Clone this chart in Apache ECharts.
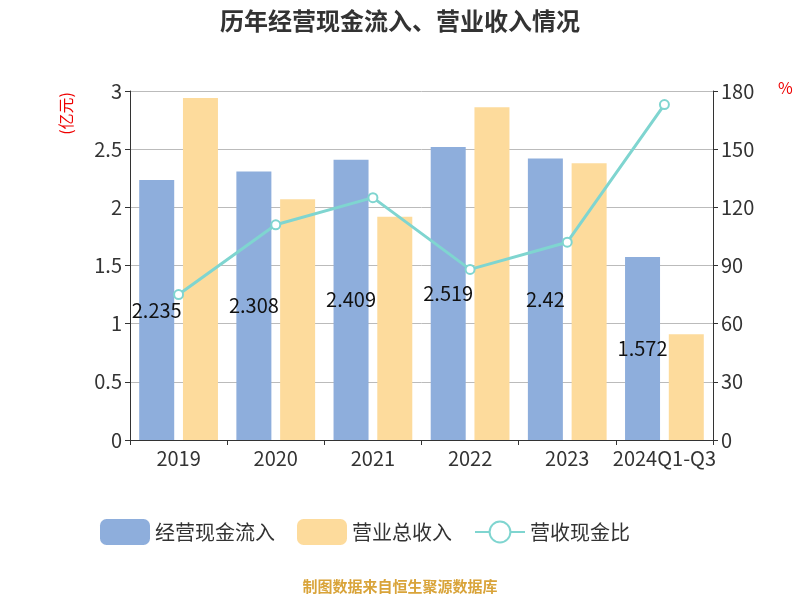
<!DOCTYPE html>
<html lang="zh">
<head>
  <meta charset="UTF-8" />
  <script src="https://cdn.jsdelivr.net/npm/echarts@6/dist/echarts.min.js"></script>
  <style>
    body { margin: 0; background: #fff; }
    #chart { width: 800px; height: 600px; }
  </style>
</head>
<body>
  <div id="chart"></div>
  <script>
    const categories = ['2019', '2020', '2021', '2022', '2023', '2024Q1-Q3'];
    const cashInflow = [2.235, 2.308, 2.409, 2.519, 2.42, 1.572];
    const revenue = [2.94, 2.07, 1.92, 2.86, 2.38, 0.91];
    const ratio = [75, 111, 125, 88, 102, 173];

    const font = 'Noto Sans CJK SC';
    const chart = echarts.init(document.getElementById('chart'));
    chart.setOption({
      textStyle: { fontFamily: font },
      title: {
        text: '历年经营现金流入、营业收入情况',
        left: 'center', top: 4,
        textStyle: { fontSize: 24, fontWeight: 'bold', color: '#333' }
      },
      graphic: [{
        type: 'text', left: 'center', top: 579,
        style: { text: '制图数据来自恒生聚源数据库', fill: '#d9a43a', font: 'bold 15px "Noto Sans CJK SC"' }
      }, {
        type: 'text', left: 58, top: 92, rotation: Math.PI / 2,
        style: { text: '(亿元)', fill: '#e00', font: '16px "Noto Sans CJK SC"' }
      }, {
        type: 'text', left: 778, top: 80,
        style: { text: '%', fill: '#e00', font: '16px "Noto Sans CJK SC"' }
      }],
      legend: {
        bottom: 50, left: 95, itemWidth: 50, itemHeight: 26, itemGap: 22,
        textStyle: { fontSize: 20, color: '#333' },
        data: ['经营现金流入', '营业总收入', '营收现金比']
      },
      grid: { left: 130, right: 87, top: 91, bottom: 160 },
      xAxis: {
        type: 'category', data: categories,
        axisLine: { lineStyle: { color: '#333' } },
        axisTick: { show: true },
        axisLabel: { fontSize: 20, color: '#333', interval: 0 }
      },
      yAxis: [{
        type: 'value', min: 0, max: 3, interval: 0.5,
        axisLine: { show: true, lineStyle: { color: '#333' } },
        axisTick: { show: true },
        axisLabel: { fontSize: 20, color: '#333' },
        splitLine: { lineStyle: { color: '#bbb' } }
      }, {
        type: 'value', min: 0, max: 180, interval: 30,
        axisLine: { show: true, lineStyle: { color: '#333' } },
        axisTick: { show: true },
        axisLabel: { fontSize: 20, color: '#333' },
        splitLine: { show: false }
      }],
      series: [{
        name: '经营现金流入', type: 'bar', data: cashInflow, barWidth: 35, barGap: '25%',
        itemStyle: { color: '#8eaedc' },
        label: { show: true, position: 'inside', fontSize: 20, color: '#111' }
      }, {
        name: '营业总收入', type: 'bar', data: revenue, barWidth: 35,
        itemStyle: { color: '#fddb9c' }
      }, {
        name: '营收现金比', type: 'line', yAxisIndex: 1, data: ratio,
        symbol: 'circle', symbolSize: 9,
        lineStyle: { color: '#7fd5d0', width: 3 },
        itemStyle: { color: '#fff', borderColor: '#7fd5d0', borderWidth: 2 }
      }]
    });
  </script>
</body>
</html>
